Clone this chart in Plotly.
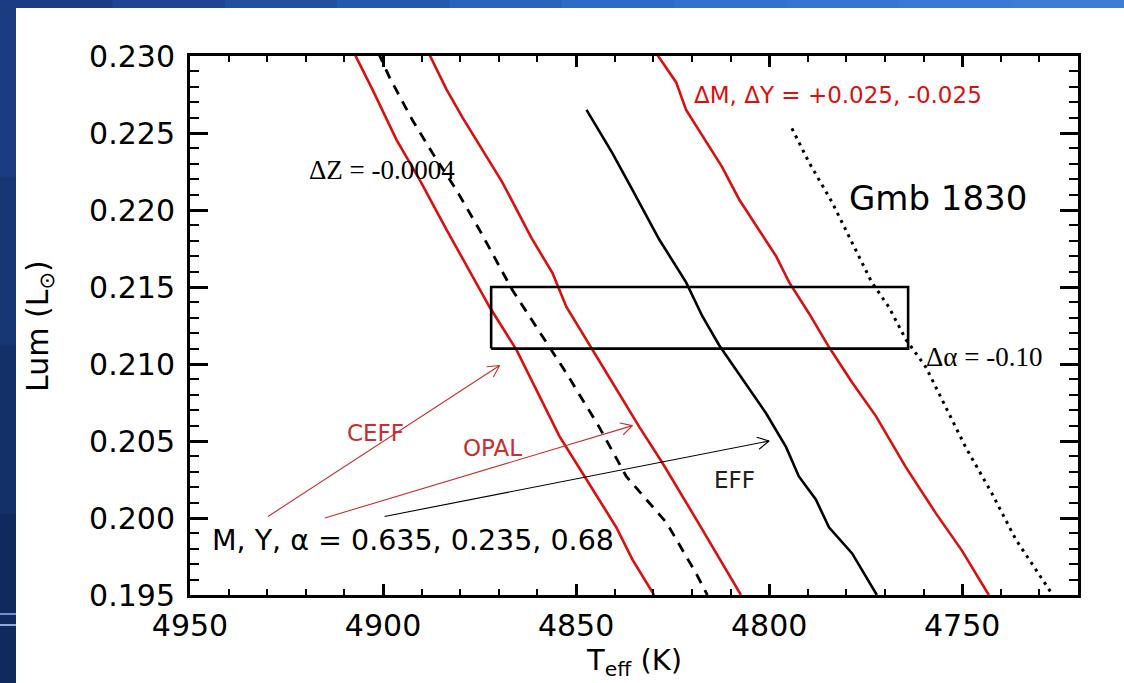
import math
import plotly.graph_objects as go

# ---- model tracks: effective temperature (K) vs luminosity (L_sun) ----
teff_ceff = [4907.5, 4902.7, 4896.5, 4890.5, 4883.5, 4872.4, 4865.4, 4861.3, 4854.3, 4847.3, 4839.6, 4835.4, 4829.8]
lum_ceff = [0.2302, 0.2278, 0.22455, 0.22195, 0.2187, 0.2137, 0.2109, 0.2088, 0.2053, 0.2025, 0.1994, 0.1973, 0.1950]

teff_dz = [4901.2, 4898.3, 4892.3, 4887.2, 4881.0, 4875.0, 4866.5, 4860.3, 4852.5, 4844.0, 4837.0, 4826.6, 4818.9, 4816.0]
lum_dz = [0.2302, 0.2286, 0.2258, 0.2237, 0.2213, 0.2187, 0.2148, 0.2124, 0.2094, 0.2059, 0.2027, 0.1997, 0.1964, 0.1950]

teff_opal = [4888.2, 4883.5, 4879.4, 4874.2, 4869.1, 4861.6, 4856.1, 4852.5, 4845.8, 4840.6, 4833.6, 4827.7, 4818.6, 4807.3]
lum_opal = [0.2302, 0.2278, 0.2260, 0.2239, 0.2218, 0.2182, 0.2159, 0.2137, 0.2109, 0.2088, 0.2059, 0.2036, 0.1998, 0.1950]

teff_eff = [4847.3, 4840.6, 4835.4, 4828.5, 4821.5, 4817.3, 4812.9, 4807.3, 4800.8, 4795.6, 4792.3, 4787.9, 4784.5, 4778.5, 4772.1]
lum_eff = [0.2265, 0.2237, 0.2213, 0.2181, 0.2153, 0.2131, 0.2112, 0.2092, 0.2068, 0.2046, 0.2027, 0.2012, 0.1994, 0.1977, 0.1950]

teff_dmy = [4829.3, 4824.1, 4821.5, 4812.2, 4807.8, 4798.2, 4794.8, 4789.7, 4784.5, 4778.5, 4772.3, 4764.6, 4756.8, 4750.1, 4743.1]
lum_dmy = [0.2302, 0.2283, 0.2265, 0.2228, 0.2207, 0.2170, 0.2153, 0.2133, 0.2111, 0.2088, 0.2066, 0.2033, 0.2003, 0.1979, 0.1950]

teff_dalpha = [4794.1, 4789.7, 4783.7, 4778.0, 4773.4, 4769.0, 4764.6, 4759.4, 4754.2, 4749.1, 4742.3, 4736.1, 4726.8]
lum_dalpha = [0.2253, 0.2231, 0.2205, 0.2176, 0.2153, 0.2137, 0.2116, 0.2098, 0.2072, 0.2046, 0.2016, 0.1986, 0.1951]

# observational error box for Gmb 1830
box_teff = [4872, 4764]
box_lum = [0.211, 0.215]

# labelled arrows (tail -> head)
arrow_labels = ["CEFF", "OPAL", "EFF"]
arrow_tail_teff = [4929.8, 4915.1, 4899.6]
arrow_tail_lum = [0.2001, 0.2000, 0.2001]
arrow_head_teff = [4869.8, 4835.4, 4800.0]
arrow_head_lum = [0.2099, 0.2060, 0.2050]

# axes
x_range = [4950, 4720]
y_range = [0.195, 0.230]
x_ticks = [4950, 4900, 4850, 4800, 4750]
y_ticks = [0.195, 0.200, 0.205, 0.210, 0.215, 0.220, 0.225, 0.230]

W, H = 1124, 683
ML, MR, MT, MB = 190, 46, 56, 88
PW, PH = W - ML - MR, H - MT - MB

RED = "#dc0f0f"
RED_TXT = "#c83030"
SANS = "DejaVu Sans"
SERIF = "Liberation Serif"

fig = go.Figure()

fig.add_trace(go.Scatter(x=teff_ceff, y=lum_ceff, mode="lines",
                         line=dict(color=RED, width=2.6), hoverinfo="skip"))
fig.add_trace(go.Scatter(x=teff_dz, y=lum_dz, mode="lines",
                         line=dict(color="black", width=2.8, dash="10px,8px"), hoverinfo="skip"))
fig.add_trace(go.Scatter(x=teff_opal, y=lum_opal, mode="lines",
                         line=dict(color=RED, width=2.6), hoverinfo="skip"))
fig.add_trace(go.Scatter(x=teff_eff, y=lum_eff, mode="lines",
                         line=dict(color="black", width=2.6), hoverinfo="skip"))
fig.add_trace(go.Scatter(x=teff_dmy, y=lum_dmy, mode="lines",
                         line=dict(color=RED, width=2.6), hoverinfo="skip"))
fig.add_trace(go.Scatter(x=teff_dalpha, y=lum_dalpha, mode="lines",
                         line=dict(color="black", width=3, dash="3px,5px"), hoverinfo="skip"))

# error box
fig.add_trace(go.Scatter(
    x=[box_teff[0], box_teff[1], box_teff[1], box_teff[0], box_teff[0]],
    y=[box_lum[0], box_lum[0], box_lum[1], box_lum[1], box_lum[0]],
    mode="lines", line=dict(color="black", width=2.6), hoverinfo="skip"))

# arrows with open heads, built in pixel space
px_per_k = PW / abs(x_range[1] - x_range[0])
px_per_l = PH / abs(y_range[1] - y_range[0])
arrow_colors = [RED_TXT, RED_TXT, "black"]
for t0, l0, t1, l1, col in zip(arrow_tail_teff, arrow_tail_lum,
                                arrow_head_teff, arrow_head_lum, arrow_colors):
    dx = (t0 - t1) * px_per_k
    dy = (l1 - l0) * px_per_l
    n = math.hypot(dx, dy)
    ux, uy = -dx / n, -dy / n
    xs, ys = [t0, t1], [l0, l1]
    for ang in (math.radians(28), math.radians(-28)):
        wx = 13 * (ux * math.cos(ang) - uy * math.sin(ang))
        wy = 13 * (ux * math.sin(ang) + uy * math.cos(ang))
        xs += [t1 - wx / px_per_k, None, t1] if ang > 0 else [t1 - wx / px_per_k]
        ys += [l1 + wy / px_per_l, None, l1] if ang > 0 else [l1 + wy / px_per_l]
    fig.add_trace(go.Scatter(x=xs, y=ys, mode="lines",
                             line=dict(color=col, width=1.1), hoverinfo="skip"))

annotations = [
    dict(x=4820, y=0.2275, text="ΔM, ΔY = +0.025, -0.025", xanchor="left",
         font=dict(family=SANS, size=23, color=RED)),
    dict(x=4919.7, y=0.2226, text="ΔZ = -0.0004", xanchor="left",
         font=dict(family=SERIF, size=27, color="black")),
    dict(x=4779.8, y=0.2208, text="Gmb 1830", xanchor="left",
         font=dict(family=SANS, size=34, color="black")),
    dict(x=4759.9, y=0.21046, text="Δα = -0.10", xanchor="left",
         font=dict(family=SERIF, size=27, color="black")),
    dict(x=4909.9, y=0.20552, text="CEFF", xanchor="left",
         font=dict(family=SANS, size=23, color=RED_TXT)),
    dict(x=4879.7, y=0.20455, text="OPAL", xanchor="left",
         font=dict(family=SANS, size=23, color=RED_TXT)),
    dict(x=4814.8, y=0.20247, text="EFF", xanchor="left",
         font=dict(family=SANS, size=23, color="#202020")),
    dict(x=4944.8, y=0.19851, text="M, Y, α = 0.635, 0.235, 0.68", xanchor="left",
         font=dict(family=SANS, size=28.5, color="black")),
]
for a in annotations:
    a.update(xref="x", yref="y", yanchor="middle", showarrow=False)

# axis titles
annotations.append(dict(xref="paper", yref="paper", x=(39 - ML) / PW, y=(MT + PH - 326) / PH,
                        text="Lum (L<sub>⊙</sub>)", textangle=-90, showarrow=False,
                        xanchor="center", yanchor="middle",
                        font=dict(family=SANS, size=30, color="black")))
annotations.append(dict(xref="paper", yref="paper", x=0.5, y=(MT + PH - 683) / PH,
                        text="T<sub>eff</sub> (K)", showarrow=False,
                        xanchor="center", yanchor="bottom",
                        font=dict(family=SANS, size=29, color="black")))

# slide frame: blue top strip (stepped gradient) and left strip
def px_x(p):
    return (p - ML) / PW

def px_y(p):
    return (MT + PH - p) / PH

shapes = []
band_colors = ["#1b3c84", "#1e4692", "#2150a0", "#245aae", "#2864bc", "#2c6cc6",
               "#3072cc", "#3476d0", "#387ad4", "#3c7ed6"]
nb = len(band_colors)
for i, c in enumerate(band_colors):
    shapes.append(dict(type="rect", xref="paper", yref="paper", layer="below",
                       x0=px_x(W * i / nb), x1=px_x(W * (i + 1) / nb + 2),
                       y0=px_y(8), y1=px_y(-2), fillcolor=c, line=dict(width=0)))
left_colors = ["#1b3c80", "#173674", "#143068", "#112a5e"]
nl = len(left_colors)
for i, c in enumerate(left_colors):
    shapes.append(dict(type="rect", xref="paper", yref="paper", layer="below",
                       x0=px_x(-2), x1=px_x(16),
                       y0=px_y(8 + (H - 8) * (i + 1) / nl + 3), y1=px_y(8 + (H - 8) * i / nl),
                       fillcolor=c, line=dict(width=0)))
for yy, c in ((614, "#6d8fd0"), (625, "#8aaae0")):
    shapes.append(dict(type="line", xref="paper", yref="paper", layer="below",
                       x0=px_x(0), x1=px_x(16), y0=px_y(yy), y1=px_y(yy),
                       line=dict(color=c, width=2)))

axis_common = dict(showline=True, linecolor="black", linewidth=3, mirror="allticks",
                   ticks="inside", tickcolor="black", tickwidth=2.6,
                   showgrid=False, zeroline=False,
                   tickfont=dict(family=SANS, size=30, color="black"))

fig.update_layout(
    width=W, height=H,
    margin=dict(l=ML, r=MR, t=MT, b=MB),
    paper_bgcolor="white", plot_bgcolor="white",
    showlegend=False,
    xaxis=dict(range=x_range, tickvals=x_ticks, ticktext=[str(v) for v in x_ticks],
               ticklen=11,
               minor=dict(ticks="inside", dtick=10, tick0=4950, ticklen=6,
                          tickwidth=2.4, tickcolor="black"),
               ticklabelstandoff=2, **axis_common),
    yaxis=dict(range=y_range, tickvals=y_ticks, ticktext=[f"{v:.3f}" for v in y_ticks],
               ticklen=18,
               minor=dict(ticks="inside", dtick=0.001, tick0=0.195, ticklen=9,
                          tickwidth=2.4, tickcolor="black"),
               ticklabelstandoff=6, **axis_common),
    annotations=annotations,
    shapes=shapes,
)

fig.write_html("out.html")
